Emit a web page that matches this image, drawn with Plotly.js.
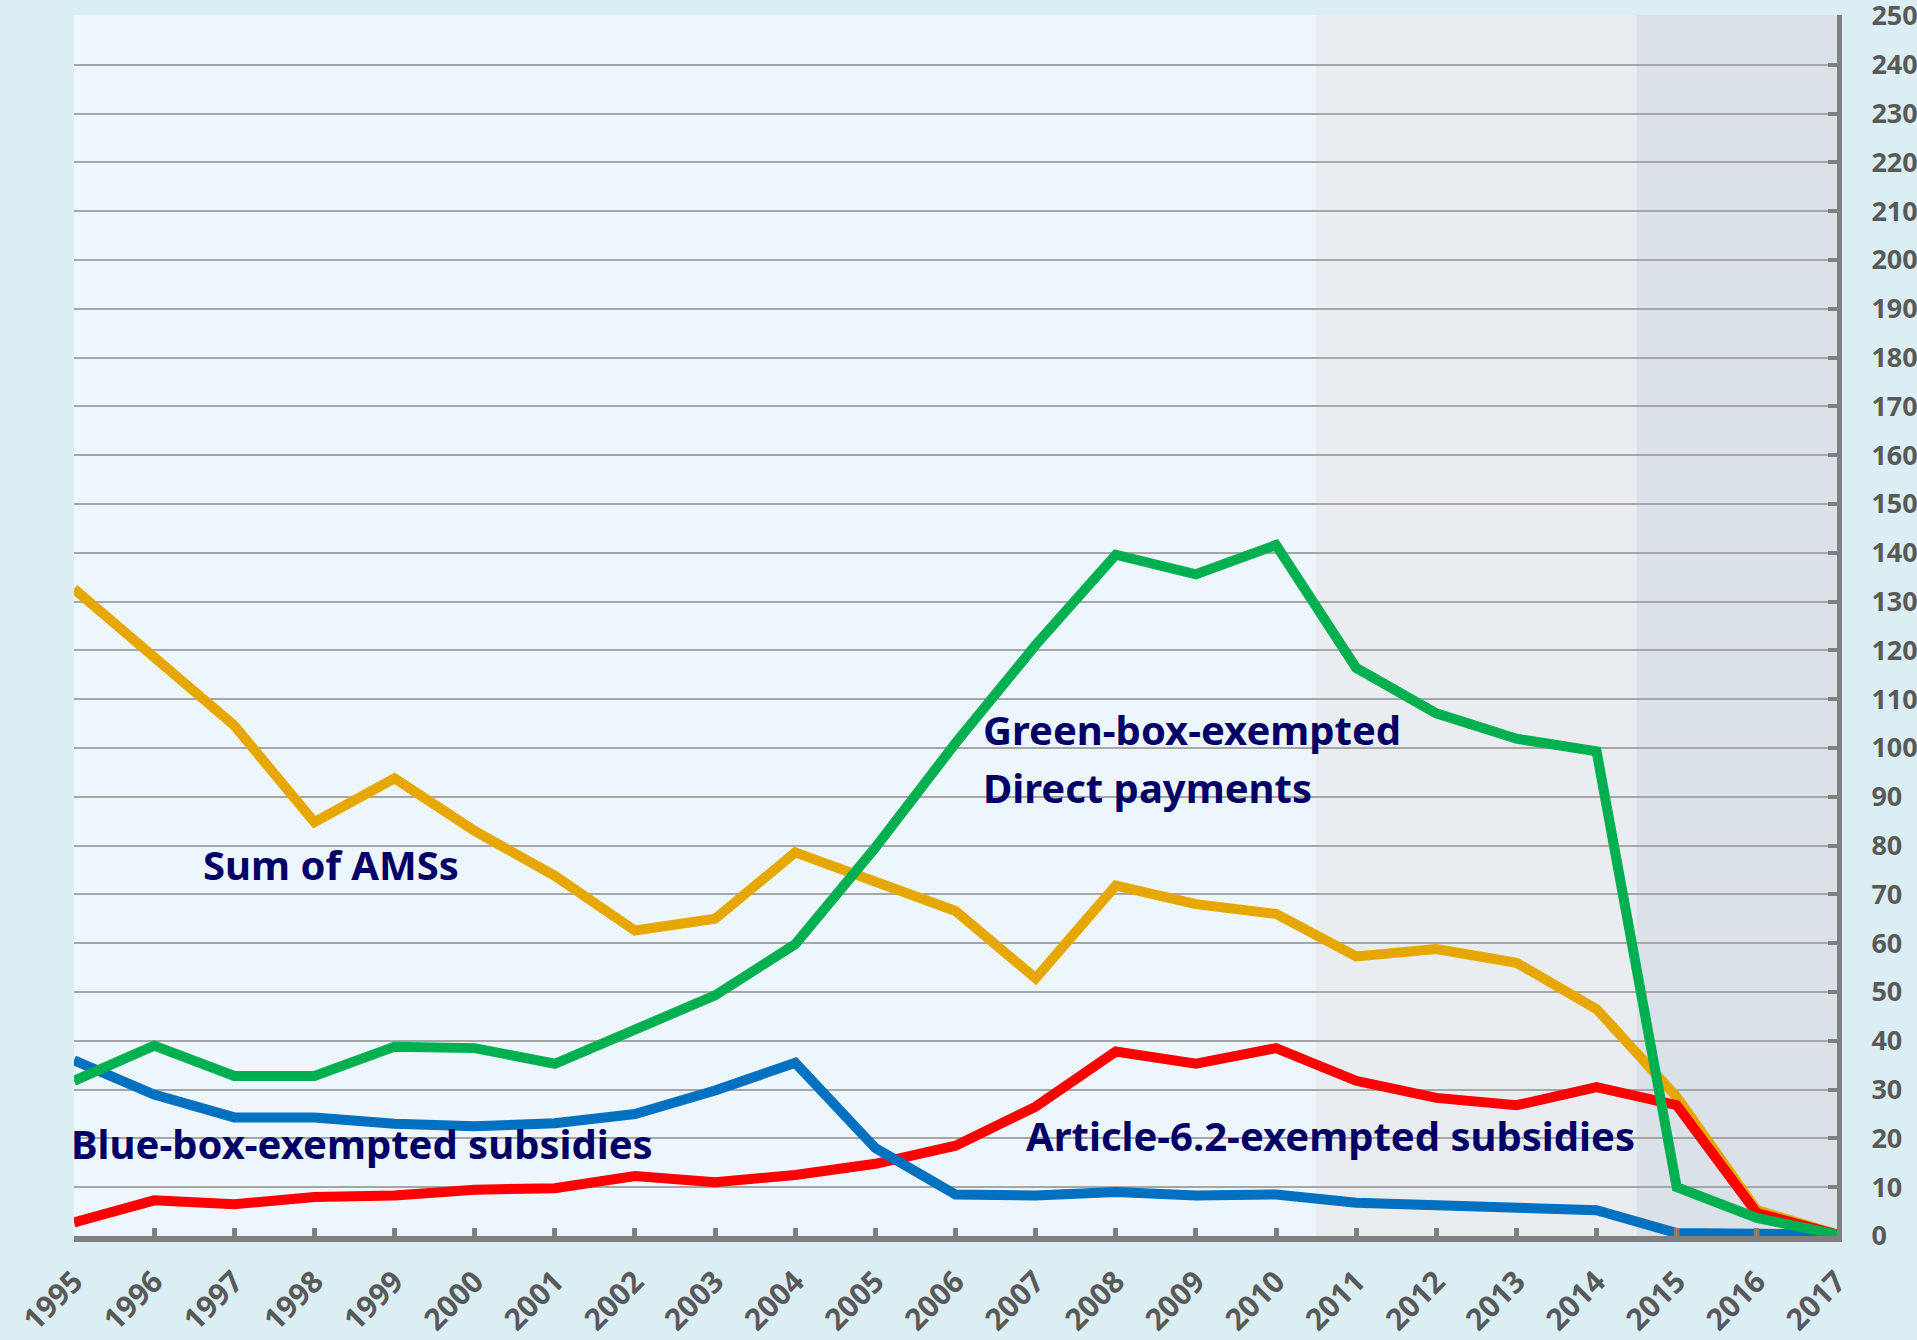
<!DOCTYPE html>
<html>
<head>
<meta charset="utf-8">
<script src="https://cdn.plot.ly/plotly-3.0.1.min.js"></script>
<style>
  html, body { margin: 0; padding: 0; background: #DBEEF4; }
  #chart { width: 1917px; height: 1340px; }
</style>
</head>
<body>
<div id="chart"></div>
<script>
// ---- data (billion yen) ----
const years = [1995,1996,1997,1998,1999,2000,2001,2002,2003,2004,2005,2006,2007,2008,2009,2010,2011,2012,2013,2014,2015,2016,2017];
const sumAMS   = [132.6,118.6,104.6,84.8,93.8,83.0,73.8,62.6,65.0,78.6,72.6,66.6,52.8,71.8,68.0,66.0,57.3,58.8,56.0,46.5,28.5,5.3,0.3];
const greenBox = [31.8,39.0,32.8,32.8,38.8,38.5,35.3,42.3,49.3,59.8,79.6,101.0,121.1,139.6,135.6,141.6,116.4,107.1,101.9,99.3,10.0,3.7,0.3];
const blueBox  = [36.0,29.0,24.3,24.3,23.0,22.5,23.1,25.0,29.8,35.5,18.0,8.5,8.3,9.0,8.3,8.5,6.8,6.3,6.0,5.3,0.6,0.6,0.3];
const art62    = [2.8,7.3,6.5,8.0,8.3,9.5,9.8,12.3,11.0,12.5,14.8,18.5,26.5,37.8,35.3,38.5,31.8,28.3,26.8,30.5,26.8,4.7,0.3];
const yTicks   = [0,10,20,30,40,50,60,70,80,90,100,110,120,130,140,150,160,170,180,190,200,210,220,230,240,250];
const seriesNames = ["Sum of AMSs","Green-box-exempted Direct payments","Blue-box-exempted subsidies","Article-6.2-exempted subsidies"];
const shadeBands = [[2010.5, 2014.5], [2014.5, 2017]];

const FONT = "Noto Sans, Open Sans, DejaVu Sans, sans-serif";
const NAVY = "#000066";

function line(y, color, name) {
  return { x: years, y: y, type: "scatter", mode: "lines", name: name,
           line: { color: color, width: 10 }, hoverinfo: "skip" };
}

const traces = [
  line(sumAMS,  "#E6A800", seriesNames[0]),
  line(art62,   "#FF0000", seriesNames[3]),
  line(blueBox, "#0070C0", seriesNames[2]),
  line(greenBox,"#00B050", seriesNames[1])
];

const shapes = [
  { type: "rect", xref: "x", yref: "paper", x0: shadeBands[0][0], x1: shadeBands[0][1], y0: 0, y1: 1,
    fillcolor: "rgb(231,234,235)", opacity: 0.75, line: { width: 0 }, layer: "between" },
  { type: "rect", xref: "x", yref: "paper", x0: shadeBands[1][0], x1: shadeBands[1][1], y0: 0, y1: 1,
    fillcolor: "rgb(211,217,224)", opacity: 0.75, line: { width: 0 }, layer: "between" }
];

const annFont = { family: FONT, size: 40, color: NAVY, weight: "bold" };
function ann(text, x, y, xs) {
  return { text: "<b>" + text + "</b>", x: x, y: y, xref: "x", yref: "y", xshift: xs || 0,
           xanchor: "left", yanchor: "middle", showarrow: false, font: annFont };
}
const annotations = [
  ann("Sum of AMSs", 1996.58, 76.2),
  ann("Green-box-exempted", 2006.32, 103.8),
  ann("Direct payments", 2006.32, 91.9),
  ann("Blue-box-exempted subsidies", 1995.0, 19.0, -5),
  ann("Article-6.2-exempted subsidies", 2006.85, 20.5)
];

const layout = {
  width: 1917, height: 1340,
  paper_bgcolor: "#DBEEF4",
  plot_bgcolor: "#EEF6FD",
  margin: { l: 74, r: 80, t: 15, b: 104, pad: 0 },
  showlegend: false,
  font: { family: FONT },
  xaxis: {
    range: [1995, 2017],
    tickmode: "array", tickvals: years, ticktext: years.map(String),
    tickangle: -45,
    tickfont: { family: FONT, size: 30, color: "#595959", weight: "bold" },
    ticks: "inside", ticklen: 8, tickwidth: 5, tickcolor: "#808080",
    ticklabelstandoff: 10, ticklabeloverflow: "allow",
    showline: true, linecolor: "#808080", linewidth: 6,
    showgrid: false, zeroline: false, fixedrange: true
  },
  yaxis: {
    side: "right",
    range: [0, 250.2],
    tickmode: "array", tickvals: yTicks, ticktext: yTicks.map(String),
    tickfont: { family: FONT, size: 27, color: "#595959", weight: "bold" },
    ticks: "inside", ticklen: 9, tickwidth: 4, tickcolor: "#808080",
    ticklabelstandoff: 24, ticklabeloverflow: "allow",
    showline: true, linecolor: "#808080", linewidth: 5,
    showgrid: true, gridcolor: "#A6A6A6", gridwidth: 2,
    zeroline: false, fixedrange: true
  },
  shapes: shapes,
  annotations: annotations
};

Plotly.newPlot("chart", traces, layout, { staticPlot: true, displayModeBar: false });
</script>
</body>
</html>
